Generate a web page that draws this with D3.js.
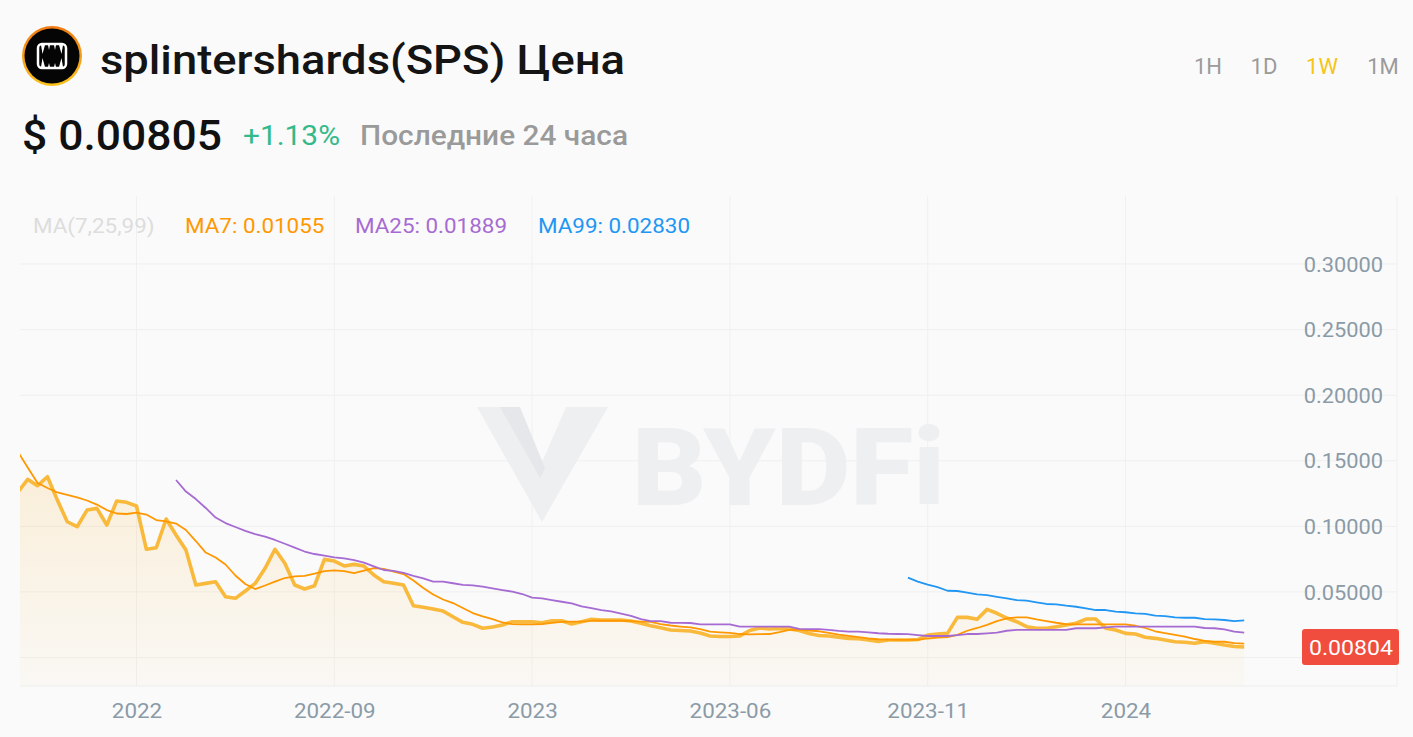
<!DOCTYPE html>
<html>
<head>
<meta charset="utf-8">
<script src="https://cdn.jsdelivr.net/npm/d3@7"></script>
<style>
  html, body { margin: 0; padding: 0; background: #fafafa; }
  svg { display: block; font-family: Roboto, "Noto Sans", sans-serif; }
</style>
</head>
<body>
<svg id="chart" width="1413" height="737"></svg>
<script>
// ---------- DATA ----------
const priceSeries = [
  0.126, 0.1358, 0.131, 0.1378, 0.120, 0.1035, 0.0997, 0.1124, 0.1137, 0.101,
  0.1193, 0.1183, 0.1155, 0.0825, 0.0837, 0.1056, 0.0934, 0.0819, 0.0553, 0.0565,
  0.0578, 0.0463, 0.0451, 0.0507, 0.0565, 0.068, 0.0825, 0.0718, 0.0553, 0.0522,
  0.0547, 0.0748, 0.0735, 0.0698, 0.0710, 0.0697, 0.0629, 0.0578, 0.0566, 0.0553,
  0.0395, 0.0383, 0.037, 0.0354, 0.0311, 0.0268, 0.0253, 0.0223, 0.0232, 0.0248,
  0.0273, 0.0273, 0.0273, 0.0265, 0.0280, 0.0280, 0.0255, 0.0273, 0.0291, 0.0286,
  0.0286, 0.0286, 0.0278, 0.0261, 0.0242, 0.0227, 0.0210, 0.0206, 0.0202, 0.0187,
  0.0164, 0.0160, 0.0160, 0.0164, 0.0206, 0.0225, 0.0217, 0.0221, 0.0217, 0.0206,
  0.0183, 0.0168, 0.0164, 0.0154, 0.0146, 0.0143, 0.0133, 0.0122, 0.0133, 0.0133,
  0.0133, 0.0137, 0.0171, 0.0179, 0.0184, 0.0306, 0.0306, 0.0291, 0.0367, 0.0337,
  0.0301, 0.0273, 0.0235, 0.0223, 0.0223, 0.0235, 0.0248, 0.0261, 0.0293, 0.0293,
  0.0223, 0.0210, 0.0184, 0.0179, 0.0154, 0.0146, 0.0133, 0.0120, 0.0116, 0.0108,
  0.0120, 0.0108, 0.0095, 0.0084, 0.00805
];
const ma7Series = [
  0.157, 0.1449, 0.133, 0.1292, 0.1258, 0.1239, 0.1221, 0.1197, 0.1166, 0.1124,
  0.1098, 0.1094, 0.1105, 0.109, 0.1048, 0.1037, 0.1021, 0.0972, 0.0888, 0.080,
  0.0762, 0.0709, 0.0625, 0.056, 0.0522, 0.0549, 0.0579, 0.0606, 0.0619, 0.0623,
  0.064, 0.0659, 0.0665, 0.0659, 0.0644, 0.0663, 0.0682, 0.0675, 0.0655, 0.0636,
  0.0587, 0.053, 0.048, 0.0442, 0.0415, 0.0377, 0.0339, 0.0313, 0.0293, 0.0267,
  0.0255, 0.0253, 0.0253, 0.0255, 0.0264, 0.0272, 0.0273, 0.0274, 0.028, 0.028,
  0.028, 0.028, 0.0278, 0.0274, 0.0271, 0.0255, 0.0244, 0.0236, 0.0229, 0.0217,
  0.0198, 0.0192, 0.0187, 0.0179, 0.0177, 0.0178, 0.0179, 0.0193, 0.021, 0.0212,
  0.0206, 0.020, 0.0187, 0.0175, 0.0165, 0.0155, 0.0145, 0.0139, 0.0136, 0.0135,
  0.0135, 0.0135, 0.0145, 0.0152, 0.0156, 0.0173, 0.0204, 0.0225, 0.0249, 0.0278,
  0.0299, 0.0306, 0.0306, 0.0291, 0.0278, 0.0265, 0.0254, 0.0253, 0.0253, 0.0253,
  0.0253, 0.0253, 0.0253, 0.0242, 0.0225, 0.0200, 0.0185, 0.0173, 0.016, 0.0141,
  0.0127, 0.012, 0.012, 0.0109, 0.01055
];
const ma25Series = [
  null, null, null, null, null, null, null, null, null, null,
  null, null, null, null, null, null, 0.1353, 0.1265, 0.1208, 0.114,
  0.1067, 0.1025, 0.0995, 0.0966, 0.0941, 0.0922, 0.0896, 0.0867, 0.0838, 0.0808,
  0.0789, 0.0776, 0.0764, 0.0756, 0.0743, 0.0724, 0.0695, 0.0667, 0.0661, 0.0646,
  0.0623, 0.0604, 0.0579, 0.0578, 0.0566, 0.0553, 0.055, 0.054, 0.0527, 0.0514,
  0.0502, 0.0484, 0.0457, 0.0451, 0.0438, 0.0425, 0.0413, 0.0389, 0.0376, 0.0362,
  0.0351, 0.0335, 0.0318, 0.0293, 0.0278, 0.0278, 0.0265, 0.0264, 0.0263, 0.0253,
  0.0252, 0.0252, 0.0252, 0.0236, 0.0235, 0.0235, 0.0235, 0.0235, 0.0235, 0.0219,
  0.0217, 0.0217, 0.021, 0.0203, 0.0198, 0.0197, 0.0192, 0.0185, 0.0181, 0.0179,
  0.0178, 0.0171, 0.0164, 0.0164, 0.0164, 0.0171, 0.0179, 0.0179, 0.0184, 0.019,
  0.0204, 0.021, 0.021, 0.021, 0.021, 0.021, 0.021, 0.0223, 0.0223, 0.0223,
  0.023, 0.0235, 0.0235, 0.0235, 0.0235, 0.0235, 0.0235, 0.0235, 0.0235, 0.0235,
  0.0225, 0.0223, 0.0215, 0.0198, 0.01889
];
const ma99Series = [
  null, null, null, null, null, null, null, null, null, null,
  null, null, null, null, null, null, null, null, null, null,
  null, null, null, null, null, null, null, null, null, null,
  null, null, null, null, null, null, null, null, null, null,
  null, null, null, null, null, null, null, null, null, null,
  null, null, null, null, null, null, null, null, null, null,
  null, null, null, null, null, null, null, null, null, null,
  null, null, null, null, null, null, null, null, null, null,
  null, null, null, null, null, null, null, null, null, null,
  0.0609, 0.0579, 0.0555, 0.0536, 0.0509, 0.0507, 0.0494, 0.0482, 0.0476, 0.0463,
  0.0451, 0.0438, 0.0433, 0.0421, 0.0408, 0.0405, 0.0395, 0.0387, 0.0375, 0.0362,
  0.0362, 0.0349, 0.0345, 0.0337, 0.0332, 0.0319, 0.0316, 0.0306, 0.0303, 0.0303,
  0.0293, 0.0291, 0.0286, 0.0278, 0.0283
];
const xTickIndex = [12, 32, 52, 72, 92, 112];
const xTickLabels = ["2022", "2022-09", "2023", "2023-06", "2023-11", "2024"];
const yTicks = [0.05, 0.10, 0.15, 0.20, 0.25, 0.30];
const legendItems = [
  { label: "MA(7,25,99)", value: null },
  { label: "MA7: ", value: "0.01055" },
  { label: "MA25: ", value: "0.01889" },
  { label: "MA99: ", value: "0.02830" }
];
const lastPriceValue = 0.00804;
const lastPriceTag = "0.00804";
const titleText = "splintershards(SPS) Цена";
const priceText = "$ 0.00805";
const changeText = "+1.13%";
const periodText = "Последние 24 часа";
const intervals = ["1H", "1D", "1W", "1M"];
const activeInterval = "1W";

// ---------- LAYOUT ----------
const svg = d3.select("#chart");
const W = 1413, H = 737;
const plot = { left: 20, right: 1397, top: 196, bottom: 686 };

// stretch text horizontally to match the reference's wider glyphs
function widen(sel, factor) {
  sel.each(function () {
    const w = this.getComputedTextLength();
    d3.select(this).attr("textLength", w * factor).attr("lengthAdjust", "spacingAndGlyphs");
  });
}

svg.append("rect").attr("width", W).attr("height", H).attr("fill", "#fafafa");

const x = d3.scaleLinear().domain([0, priceSeries.length - 1]).range([17.8, 1244.2]);
const y = d3.scaleLinear().domain([0, 0.30]).range([657.5, 264]);

const defs = svg.append("defs");
defs.append("clipPath").attr("id", "clip")
  .append("rect").attr("x", plot.left).attr("y", plot.top)
  .attr("width", plot.right - plot.left).attr("height", plot.bottom - plot.top);
const grad = defs.append("linearGradient").attr("id", "fillGrad")
  .attr("x1", 0).attr("y1", 0).attr("x2", 0).attr("y2", 1);
grad.append("stop").attr("offset", "0%").attr("stop-color", "#f7b232").attr("stop-opacity", 0.16);
grad.append("stop").attr("offset", "100%").attr("stop-color", "#f7b232").attr("stop-opacity", 0.03);

// ---------- GRID ----------
const grid = svg.append("g");
grid.selectAll("line.h").data([0, ...yTicks]).join("line")
  .attr("x1", plot.left).attr("x2", plot.right)
  .attr("y1", d => y(d)).attr("y2", d => y(d))
  .attr("stroke", "#efefef").attr("stroke-width", 1);
grid.selectAll("line.v").data(xTickIndex).join("line")
  .attr("x1", d => x(d)).attr("x2", d => x(d))
  .attr("y1", plot.top).attr("y2", plot.bottom)
  .attr("stroke", "#f0f0f0").attr("stroke-width", 1);
grid.append("line").attr("x1", plot.left).attr("x2", plot.right)
  .attr("y1", plot.bottom).attr("y2", plot.bottom).attr("stroke", "#eeeeee");
grid.append("line").attr("x1", plot.right).attr("x2", plot.right)
  .attr("y1", plot.top).attr("y2", plot.bottom).attr("stroke", "#f0f0f0");

// ---------- WATERMARK ----------
const wm = svg.append("g").attr("fill", "#eeeff1");
wm.append("path").attr("d", "M477,407 L518,407 L542,462 L566,407 L608,407 L542,522 Z");
wm.append("path").attr("d", "M500,407 L520,407 L545,468 L540,478 Z").attr("fill", "#e6e7ea");
wm.append("text").attr("x", 632).attr("y", 505)
  .attr("font-size", 108).attr("font-weight", 900)
  .attr("textLength", 313).attr("lengthAdjust", "spacingAndGlyphs")
  .text("BYDFi");

// ---------- SERIES ----------
const g = svg.append("g").attr("clip-path", "url(#clip)");
const idx = d3.range(priceSeries.length);

g.append("path").datum(idx)
  .attr("d", d3.area().x(i => x(i)).y0(plot.bottom).y1(i => y(priceSeries[i])))
  .attr("fill", "url(#fillGrad)");

g.append("path").datum(idx)
  .attr("d", d3.line().x(i => x(i)).y(i => y(priceSeries[i])))
  .attr("fill", "none").attr("stroke", "#f9b531").attr("stroke-width", 3.6)
  .attr("stroke-linejoin", "round").attr("stroke-opacity", 0.95);

const maLines = [
  { data: ma7Series, color: "#ff9800" },
  { data: ma25Series, color: "#a66bd3" },
  { data: ma99Series, color: "#2196f3" }
];
maLines.forEach(m => {
  g.append("path").datum(idx)
    .attr("d", d3.line().defined(i => m.data[i] != null).x(i => x(i)).y(i => y(m.data[i])))
    .attr("fill", "none").attr("stroke", m.color).attr("stroke-width", 1.8)
    .attr("stroke-linejoin", "round");
});

// ---------- AXES ----------
const yAxis = svg.append("g").attr("transform", `translate(1383,0)`)
  .call(d3.axisLeft(y).tickValues(yTicks).tickFormat(d3.format(".5f")).tickSize(0).tickPadding(0));
yAxis.select(".domain").remove();
yAxis.selectAll("text").attr("font-size", 20).attr("fill", "#8b9aa7")
  .attr("font-family", "Roboto, sans-serif").attr("text-anchor", "end").attr("dy", "0.36em");
widen(yAxis.selectAll("text"), 1.09);

const xAxis = svg.append("g").attr("transform", `translate(0,${plot.bottom})`)
  .call(d3.axisBottom(x).tickValues(xTickIndex).tickFormat((d, i) => xTickLabels[i]).tickSize(0).tickPadding(0));
xAxis.select(".domain").remove();
xAxis.selectAll("text").attr("font-size", 20).attr("fill", "#8b9aa7")
  .attr("font-family", "Roboto, sans-serif").attr("y", 25).attr("dy", "0.36em");
widen(xAxis.selectAll("text"), 1.12);

// last price tag
const tagY = y(lastPriceValue);
svg.append("rect").attr("x", 1302).attr("y", tagY - 18).attr("width", 97).attr("height", 36)
  .attr("rx", 3).attr("fill", "#f04d3e");
const tagText = svg.append("text").attr("x", 1351).attr("y", tagY).attr("dy", "0.36em")
  .attr("text-anchor", "middle").attr("font-size", 21).attr("fill", "#ffffff").text(lastPriceTag);
widen(tagText, 1.1);

// ---------- LEGEND ----------
const legendColors = ["#dddddd", "#ff9800", "#a66bd3", "#2196f3"];
const legendX = [33, 185, 355, 538];
legendItems.forEach((it, i) => {
  const t = svg.append("text").attr("x", legendX[i]).attr("y", 226).attr("dy", "0.36em")
    .attr("font-size", 20).attr("fill", legendColors[i])
    .text(it.label + (it.value || ""));
  widen(t, 1.12);
});

// ---------- HEADER ----------
const logo = svg.append("g").attr("transform", "translate(52,56)");
const lg = defs.append("linearGradient").attr("id", "ring").attr("x1", 0).attr("y1", 0).attr("x2", 0).attr("y2", 1);
lg.append("stop").attr("offset", "0%").attr("stop-color", "#f07a12");
lg.append("stop").attr("offset", "100%").attr("stop-color", "#f9c31c");
logo.append("circle").attr("r", 30).attr("fill", "url(#ring)");
logo.append("circle").attr("r", 27.5).attr("fill", "#050505");
logo.append("rect").attr("x", -14).attr("y", -12).attr("width", 28).attr("height", 24).attr("rx", 4)
  .attr("fill", "none").attr("stroke", "#ffffff").attr("stroke-width", 2.5);
logo.append("path")
  .attr("d", "M-11,-11 L-9.5,-2 L-7,-11 Z M7,-11 L9.5,-2 L11,-11 Z M-11,11 L-9.5,2 L-7,11 Z M7,11 L9.5,2 L11,11 Z M-4,-11 L-3,-6 L-2,-11 Z M2,-11 L3,-6 L4,-11 Z M-4,11 L-3,7 L-2,11 Z M2,11 L3,7 L4,11 Z")
  .attr("fill", "#ffffff");

const title = svg.append("text").attr("x", 100).attr("y", 74).attr("font-size", 40).attr("font-weight", 500)
  .attr("fill", "#141414").text(titleText);
title.attr("textLength", 525).attr("lengthAdjust", "spacingAndGlyphs");

svg.append("text").attr("x", 22).attr("y", 150).attr("font-size", 42).attr("font-weight", 500)
  .attr("fill", "#111111").text(priceText)
  .attr("textLength", 200).attr("lengthAdjust", "spacingAndGlyphs");
svg.append("text").attr("x", 243).attr("y", 145).attr("font-size", 27)
  .attr("fill", "#34b98a").text(changeText)
  .attr("textLength", 97).attr("lengthAdjust", "spacingAndGlyphs");
svg.append("text").attr("x", 360).attr("y", 145).attr("font-size", 27).attr("font-weight", 500)
  .attr("fill", "#9a9a9a").text(periodText)
  .attr("textLength", 268).attr("lengthAdjust", "spacingAndGlyphs");

const intervalX = [1208, 1264, 1322, 1383];
intervals.forEach((t, i) => {
  svg.append("text").attr("x", intervalX[i]).attr("y", 66).attr("dy", "0.36em")
    .attr("text-anchor", "middle").attr("font-size", 22)
    .attr("fill", t === activeInterval ? "#f5c518" : "#9b9b9b").text(t);
});
</script>
</body>
</html>
